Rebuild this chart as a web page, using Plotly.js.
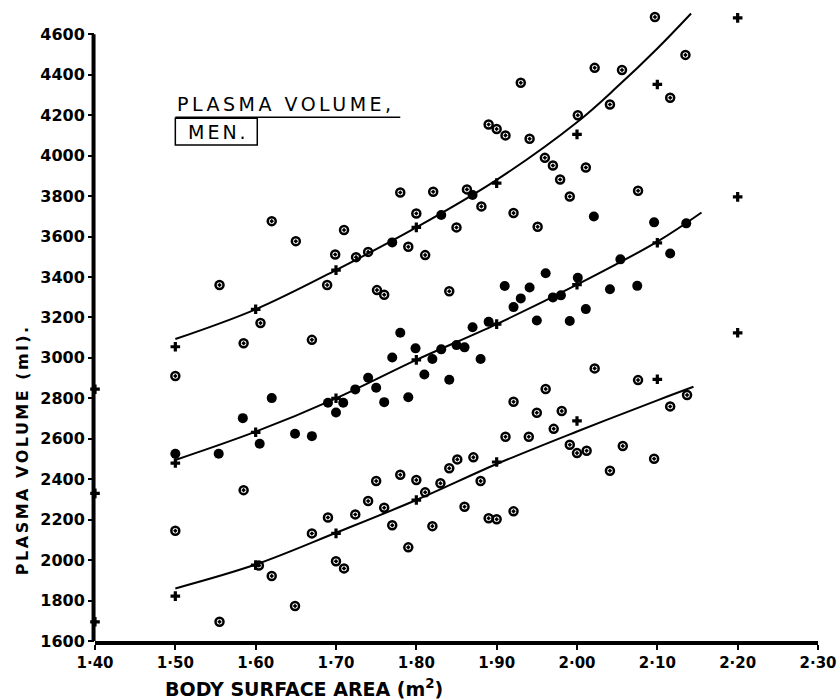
<!DOCTYPE html>
<html>
<head>
<meta charset="utf-8">
<script src="https://cdn.plot.ly/plotly-3.0.1.min.js"></script>
<style>html,body{margin:0;padding:0;background:#fff;}#chart{width:840px;height:700px;}</style>
</head>
<body>
<div id="chart"></div>
<script>
// Open circles (upper group)
const openUpperX = [1.50,1.555,1.585,1.606,1.620,1.650,1.670,1.689,1.699,1.710,1.725,1.740,1.751,1.760,1.780,1.790,1.800,1.811,1.821,1.841,1.850,1.863,1.881,1.890,1.900,1.911,1.921,1.930,1.941,1.951,1.960,1.970,1.979,1.991,2.001,2.011,2.022,2.041,2.056,2.076,2.097,2.116,2.135];
const openUpperY = [2910,3360,3072,3172,3676,3577,3089,3360,3511,3632,3498,3524,3335,3312,3818,3549,3714,3508,3821,3329,3645,3833,3749,4154,4132,4100,3716,4360,4083,3648,3989,3951,3882,3798,4200,3941,4434,4253,4423,3826,4685,4286,4498];
// Open circles (lower group)
const openLowerX = [1.50,1.555,1.585,1.604,1.620,1.649,1.670,1.690,1.700,1.710,1.724,1.740,1.750,1.760,1.770,1.780,1.790,1.800,1.811,1.820,1.830,1.841,1.851,1.860,1.871,1.880,1.890,1.900,1.911,1.921,1.921,1.940,1.950,1.961,1.971,1.981,1.991,2.000,2.012,2.022,2.041,2.057,2.076,2.096,2.116,2.137];
const openLowerY = [2145,1695,2346,1973,1921,1773,2132,2211,1994,1959,2226,2292,2391,2259,2172,2422,2063,2396,2335,2168,2380,2454,2498,2264,2508,2391,2207,2202,2610,2783,2241,2610,2729,2846,2649,2737,2570,2529,2541,2948,2442,2564,2890,2501,2760,2816];
// Filled circles
const filledX = [1.50,1.554,1.584,1.605,1.620,1.649,1.670,1.690,1.700,1.709,1.724,1.740,1.750,1.760,1.770,1.770,1.780,1.790,1.799,1.810,1.820,1.831,1.831,1.841,1.850,1.860,1.870,1.870,1.880,1.890,1.910,1.921,1.930,1.941,1.950,1.961,1.970,1.980,1.991,2.001,2.011,2.021,2.041,2.054,2.075,2.096,2.116,2.136];
const filledY = [2526,2526,2702,2575,2801,2625,2613,2778,2730,2778,2844,2902,2852,2781,3002,3571,3124,2805,3047,2918,2994,3042,3706,2892,3063,3052,3151,3805,2994,3178,3355,3251,3294,3348,3185,3418,3299,3309,3182,3396,3241,3699,3339,3487,3356,3670,3516,3665];
// Crosses
const crossX = [1.40,1.40,1.40,1.50,1.50,1.50,1.60,1.60,1.60,1.70,1.70,1.70,1.80,1.80,1.80,1.90,1.90,1.90,2.00,2.00,2.00,2.10,2.10,2.10,2.20,2.20,2.20];
const crossY = [2845,2330,1695,3055,2480,1822,3240,2632,1975,3434,2800,2132,3645,2990,2297,3864,3167,2485,4105,3362,2688,4352,3569,2894,4681,3796,3124];
// Fitted curves
const upperCurveX = [1.50,1.60,1.70,1.80,1.90,2.00,2.05,2.10,2.142];
const upperCurveY = [3093,3240,3434,3645,3880,4165,4340,4530,4703];
const middleCurveX = [1.50,1.60,1.70,1.80,1.90,2.00,2.10,2.155];
const middleCurveY = [2495,2635,2800,2990,3167,3362,3575,3719];
const lowerCurveX = [1.50,1.60,1.70,1.80,1.90,2.00,2.10,2.145];
const lowerCurveY = [1860,1978,2135,2297,2475,2636,2790,2857];
// Ticks
const xTickVals = [1.40,1.50,1.60,1.70,1.80,1.90,2.00,2.10,2.20,2.30];
const xTickText = ['1·40','1·50','1·60','1·70','1·80','1·90','2·00','2·10','2·20','2·30'];
const yTickVals = [1600,1800,2000,2200,2400,2600,2800,3000,3200,3400,3600,3800,4000,4200,4400,4600];

const FONT = 'DejaVu Sans, sans-serif';
const lineStyle = {color:'#000', width:2, shape:'spline', smoothing:1};
const openMarker = {symbol:'circle-open-dot', size:8, color:'#000', line:{width:2.5, color:'#000'}};
const traces = [
  {x:upperCurveX, y:upperCurveY, mode:'lines', line:lineStyle, hoverinfo:'skip'},
  {x:middleCurveX, y:middleCurveY, mode:'lines', line:lineStyle, hoverinfo:'skip'},
  {x:lowerCurveX, y:lowerCurveY, mode:'lines', line:lineStyle, hoverinfo:'skip'},
  {x:openUpperX, y:openUpperY, mode:'markers', cliponaxis:false, marker:openMarker},
  {x:openLowerX, y:openLowerY, mode:'markers', cliponaxis:false, marker:openMarker},
  {x:filledX, y:filledY, mode:'markers', cliponaxis:false,
   marker:{symbol:'circle', size:10, color:'#000'}},
  {x:crossX, y:crossY, mode:'markers', cliponaxis:false,
   marker:{symbol:'cross', size:8, color:'#000'}}
];

const sp = (t, s) => '<span style="letter-spacing:' + s + 'px">' + t + '</span>';

const layout = {
  width:840, height:700,
  margin:{l:95, r:22, t:10, b:59},
  paper_bgcolor:'#fff', plot_bgcolor:'#fff',
  showlegend:false,
  font:{family:FONT, color:'#000', size:16},
  xaxis:{range:[1.40,2.30], tickvals:xTickVals, ticktext:xTickText,
         showgrid:false, zeroline:false, showline:true, linewidth:3.5, linecolor:'#000',
         ticks:'outside', ticklen:5, tickwidth:2, tickcolor:'#000',
         tickfont:{family:FONT, size:15, color:'#000', weight:'bold'}},
  yaxis:{range:[1600,4720], tickvals:yTickVals,
         showgrid:false, zeroline:false, showline:false,
         ticks:'outside', ticklen:6, tickwidth:2, tickcolor:'#000',
         tickfont:{family:FONT, size:16, color:'#000', weight:'bold'}},
  shapes:[
    {type:'line', xref:'paper', yref:'y', x0:-0.002, x1:-0.002, y0:1600, y1:4600, line:{color:'#000', width:4}},
    {type:'line', xref:'x', yref:'y', x0:1.50, x1:1.78, y0:4190, y1:4190, line:{color:'#000', width:1.5}},
    {type:'rect', xref:'x', yref:'y', x0:1.50, x1:1.602, y0:4052, y1:4185, line:{color:'#000', width:1.5}}
  ],
  annotations:[
    {text:sp('PLASMA VOLUME,', 3.5), xref:'x', yref:'y', x:1.50, y:4190, xanchor:'left', yanchor:'bottom',
     showarrow:false, font:{family:FONT, size:19, color:'#000'}},
    {text:sp('MEN.', 3), xref:'x', yref:'y', x:1.554, y:4118, xanchor:'center', yanchor:'middle',
     showarrow:false, font:{family:FONT, size:19, color:'#000'}},
    {text:sp('PLASMA VOLUME (ml).', 2.5), xref:'paper', yref:'paper', x:-0.101, y:0.304, textangle:-90,
     xanchor:'center', yanchor:'middle', showarrow:false, font:{family:FONT, size:16, color:'#000', weight:'bold'}},
    {text:'BODY SURFACE AREA (m<sup>2</sup>)', xref:'paper', yref:'paper', x:0.289, y:-0.075,
     xanchor:'center', yanchor:'middle', showarrow:false, font:{family:FONT, size:19, color:'#000', weight:'bold'}}
  ]
};

Plotly.newPlot('chart', traces, layout, {staticPlot:true, displayModeBar:false});
</script>
</body>
</html>
